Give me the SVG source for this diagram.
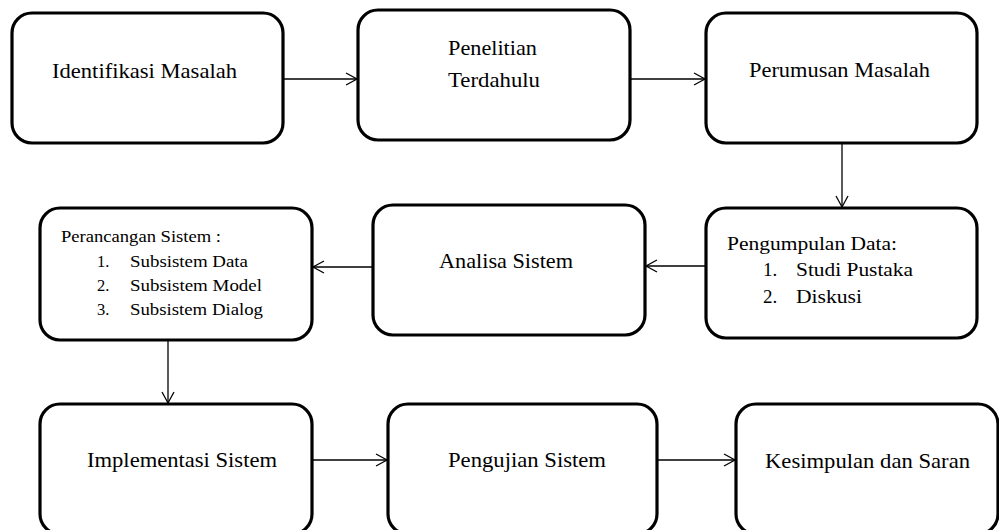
<svg xmlns="http://www.w3.org/2000/svg" width="999" height="530" viewBox="0 0 999 530">
<style>
.box{fill:#fff;stroke:#000;stroke-width:3.2}
.t{font-family:'Liberation Serif','Times New Roman',serif;fill:#000}
.big{font-size:22px}
.sm{font-size:16.5px}
.md{font-size:19px}
.c{fill:none;stroke:#000;stroke-width:1.3}
</style>
<defs>
<marker id="a" markerUnits="userSpaceOnUse" markerWidth="14" markerHeight="14" viewBox="0 0 14 14" refX="12" refY="7" orient="auto">
<path d="M1,1 L12,7 L1,13" fill="none" stroke="#000" stroke-width="1.3"/>
</marker>
</defs>
<rect width="999" height="530" fill="#fff"/>
<g id="connectors">
<line class="c" x1="283" y1="79" x2="357" y2="79" marker-end="url(#a)"/>
<line class="c" x1="630" y1="79" x2="705" y2="79" marker-end="url(#a)"/>
<line class="c" x1="842" y1="143" x2="842" y2="207" marker-end="url(#a)"/>
<line class="c" x1="706" y1="266" x2="646" y2="266" marker-end="url(#a)"/>
<line class="c" x1="373" y1="267" x2="313" y2="267" marker-end="url(#a)"/>
<line class="c" x1="168" y1="340" x2="168" y2="403" marker-end="url(#a)"/>
<line class="c" x1="312" y1="460" x2="387" y2="460" marker-end="url(#a)"/>
<line class="c" x1="657" y1="460" x2="735" y2="460" marker-end="url(#a)"/>
</g>
<g id="identifikasi">
<rect class="box" x="12" y="13" width="271" height="130" rx="20"/>
<text class="t big" x="52" y="78" textLength="185" lengthAdjust="spacingAndGlyphs">Identifikasi Masalah</text>
</g>
<g id="penelitian">
<rect class="box" x="358" y="10" width="272" height="130" rx="20"/>
<text class="t big" x="448" y="55" textLength="89" lengthAdjust="spacingAndGlyphs">Penelitian</text>
<text class="t big" x="448" y="87" textLength="92" lengthAdjust="spacingAndGlyphs">Terdahulu</text>
</g>
<g id="perumusan">
<rect class="box" x="706" y="13" width="271" height="130" rx="20"/>
<text class="t big" x="749" y="77" textLength="181" lengthAdjust="spacingAndGlyphs">Perumusan Masalah</text>
</g>
<g id="pengumpulan">
<rect class="box" x="706" y="208" width="271" height="130" rx="20"/>
<text class="t md" x="727" y="250" textLength="170" lengthAdjust="spacingAndGlyphs">Pengumpulan Data:</text>
<text class="t md" x="763" y="276">1.</text>
<text class="t md" x="796" y="276" textLength="117" lengthAdjust="spacingAndGlyphs">Studi Pustaka</text>
<text class="t md" x="763" y="303">2.</text>
<text class="t md" x="796" y="303" textLength="66" lengthAdjust="spacingAndGlyphs">Diskusi</text>
</g>
<g id="analisa">
<rect class="box" x="373" y="205" width="272" height="130" rx="20"/>
<text class="t big" x="439" y="268" textLength="134" lengthAdjust="spacingAndGlyphs">Analisa Sistem</text>
</g>
<g id="perancangan">
<rect class="box" x="40" y="208" width="272" height="132" rx="20"/>
<text class="t sm" x="61" y="242" textLength="160" lengthAdjust="spacingAndGlyphs">Perancangan Sistem :</text>
<text class="t sm" x="97" y="267">1.</text>
<text class="t sm" x="130" y="267" textLength="118" lengthAdjust="spacingAndGlyphs">Subsistem Data</text>
<text class="t sm" x="97" y="291">2.</text>
<text class="t sm" x="130" y="291" textLength="132" lengthAdjust="spacingAndGlyphs">Subsistem Model</text>
<text class="t sm" x="97" y="315">3.</text>
<text class="t sm" x="130" y="315" textLength="133" lengthAdjust="spacingAndGlyphs">Subsistem Dialog</text>
</g>
<g id="implementasi">
<rect class="box" x="40" y="404" width="272" height="130" rx="20"/>
<text class="t big" x="87" y="467" textLength="190" lengthAdjust="spacingAndGlyphs">Implementasi Sistem</text>
</g>
<g id="pengujian">
<rect class="box" x="388" y="404" width="269" height="130" rx="20"/>
<text class="t big" x="448" y="467" textLength="158" lengthAdjust="spacingAndGlyphs">Pengujian Sistem</text>
</g>
<g id="kesimpulan">
<rect class="box" x="736" y="404" width="262" height="130" rx="20"/>
<text class="t big" x="765" y="468" textLength="205" lengthAdjust="spacingAndGlyphs">Kesimpulan dan Saran</text>
</g>
</svg>
